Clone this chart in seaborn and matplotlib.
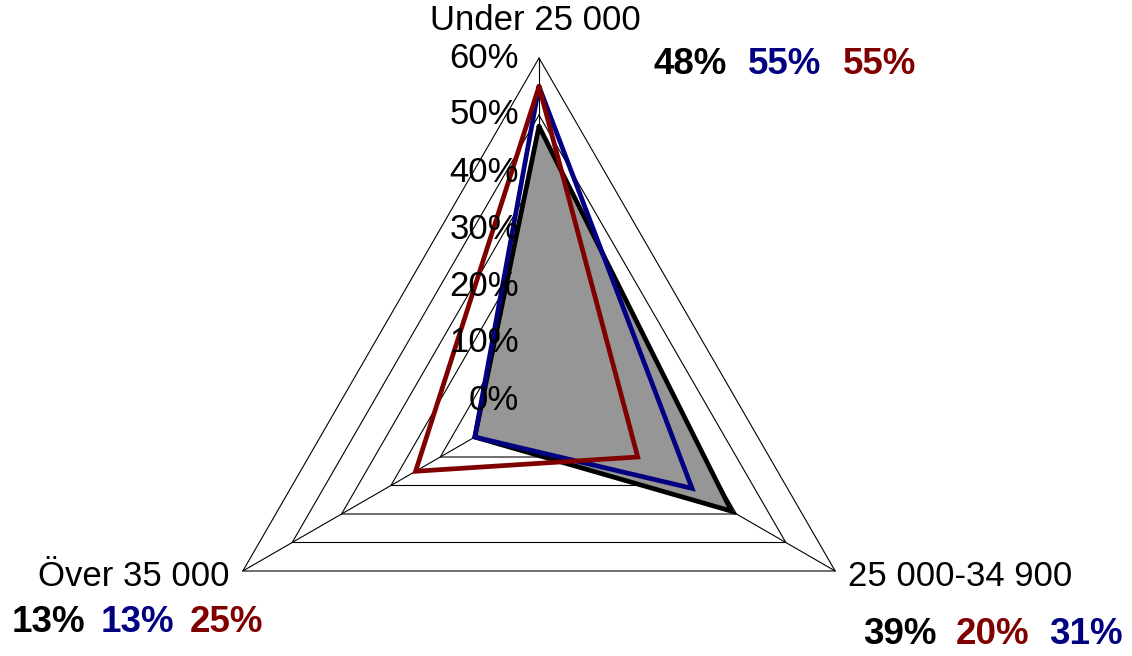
import numpy as np
import pandas as pd
import matplotlib
matplotlib.use("Agg")
import matplotlib.pyplot as plt
import seaborn as sns

# --- data ---
categories = ["Under 25 000", "25 000-34 900", "Över 35 000"]
series_names = ["Svart", "Blå", "Röd"]
values_black = [48, 39, 13]
values_blue = [55, 31, 13]
values_red = [55, 20, 25]
tick_levels = [0, 10, 20, 30, 40, 50, 60]

series_values = [values_black, values_blue, values_red]
series_colors = ["#000000", "#000080", "#800000"]
# order in which value labels are written next to each category
label_order = [[0, 1, 2], [0, 2, 1], [0, 1, 2]]

W, H = 1132, 656
CX, CY = 539, 400          # centre of the radar in pixels
SCALE = 342 / 60           # pixels per percent

sns.set_style("white")
plt.rcParams['font.family'] = ['Liberation Sans', 'DejaVu Sans']
plt.rcParams['text.color'] = 'black'

fig = plt.figure(figsize=(W / 100, H / 100), dpi=100)
ax = fig.add_axes([0, 0, 1, 1])
ax.set_xlim(-CX / SCALE, (W - CX) / SCALE)
ax.set_ylim(-(H - CY) / SCALE, CY / SCALE)
ax.set_aspect('equal')
ax.axis('off')

angles = np.deg2rad([90, -30, 210])


def to_xy(vals):
    vals = np.asarray(vals, dtype=float)
    x = vals * np.cos(angles)
    y = vals * np.sin(angles)
    return np.append(x, x[0]), np.append(y, y[0])


# grid triangles and spokes
for lev in tick_levels[1:]:
    gx, gy = to_xy([lev] * 3)
    ax.plot(gx, gy, color='black', lw=0.8, zorder=1)
for a in angles:
    ax.plot([0, tick_levels[-1] * np.cos(a)], [0, tick_levels[-1] * np.sin(a)],
            color='black', lw=0.8, zorder=1)

# series
for i, (name, vals, col) in enumerate(zip(series_names, series_values, series_colors)):
    xs, ys = to_xy(vals)
    if i == 0:
        ax.fill(xs, ys, color='#969696', zorder=2)
    df = pd.DataFrame({'x': xs, 'y': ys})
    sns.lineplot(data=df, x='x', y='y', sort=False, estimator=None, color=col,
                 lw=3.4, ax=ax, zorder=3 + i)
    ax.lines[-1].set_solid_joinstyle('miter')
ax.set_xlabel('')
ax.set_ylabel('')
ax.axis('off')

fs = 25

# tick labels along the vertical axis
for lev in tick_levels:
    ax.text(-20 / SCALE, lev, f"{lev}%", ha='right', va='center', fontsize=fs,
            color='black', zorder=10)

# category labels
fig.text(535 / W, 1 - 20 / H, categories[0], ha='center', va='center', fontsize=fs)
fig.text(848 / W, 1 - 576 / H, categories[1], ha='left', va='center', fontsize=fs)
fig.text(230 / W, 1 - 577 / H, categories[2], ha='right', va='center', fontsize=fs)

# value labels per category
label_pos = [(653, 65, 95), (863, 634, 93), (12, 622, 89)]
for c, (x0, y0, step) in enumerate(label_pos):
    for k, s in enumerate(label_order[c]):
        fig.text((x0 + k * step) / W, 1 - y0 / H, f"{series_values[s][c]}%",
                 ha='left', va='center', fontsize=26.5, fontweight='bold',
                 color=series_colors[s])

fig.savefig("out.png", dpi=100)
